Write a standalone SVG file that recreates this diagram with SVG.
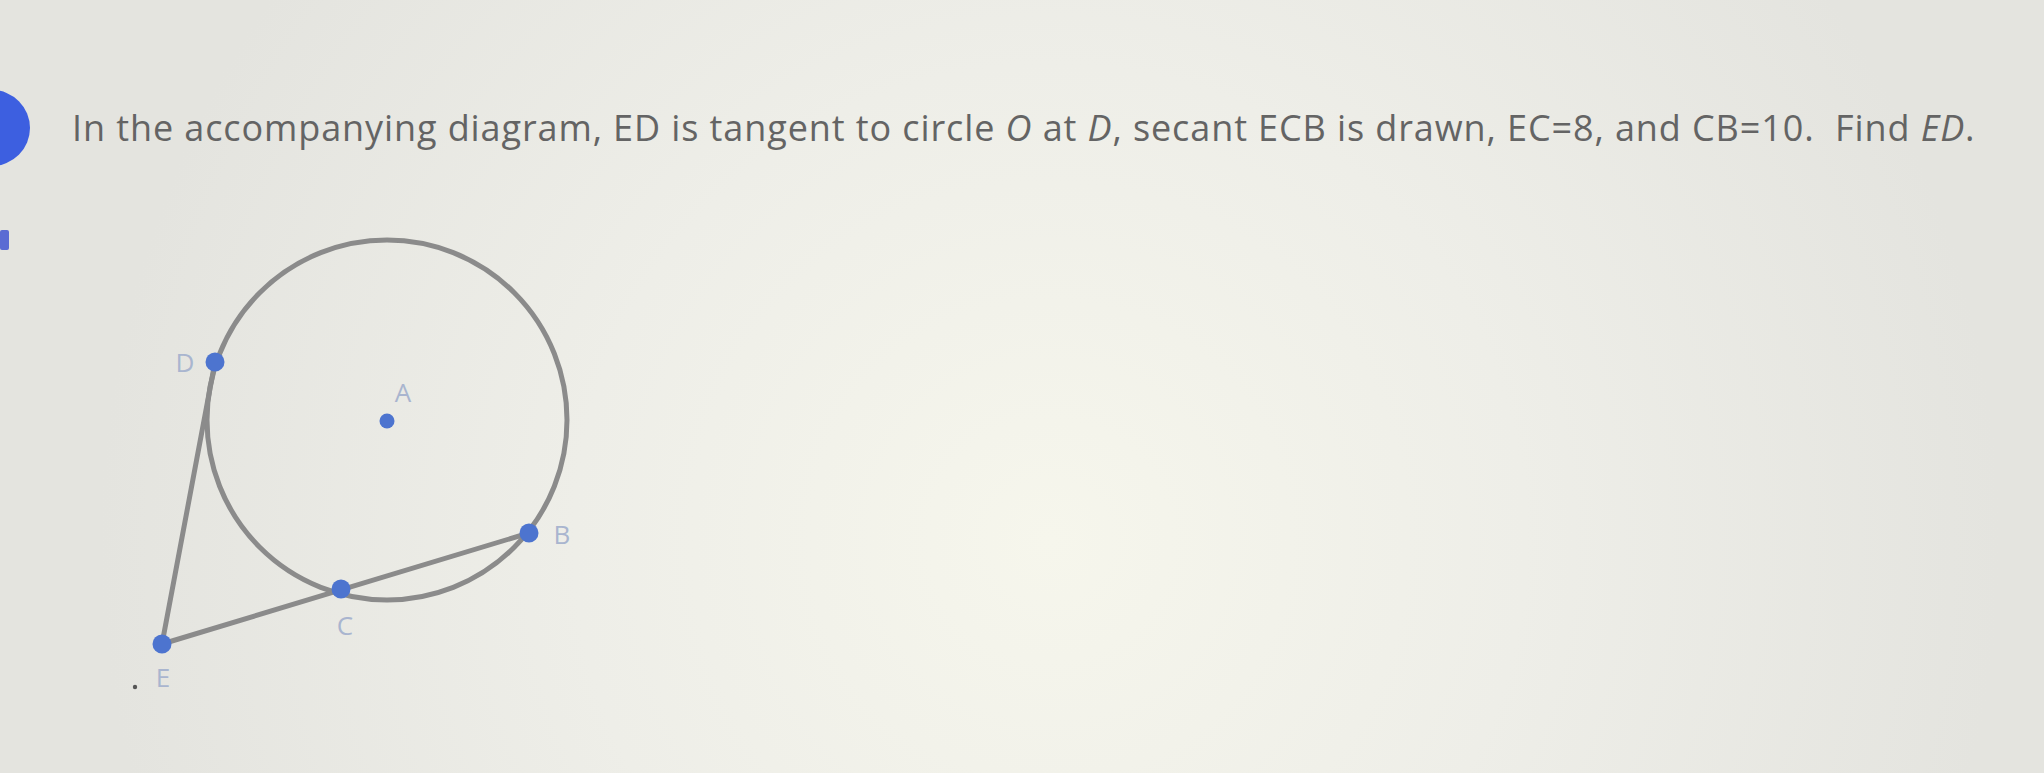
<svg xmlns="http://www.w3.org/2000/svg" width="2044" height="773" viewBox="0 0 2044 773">
<defs>
<radialGradient id="bgGlow" cx="1050" cy="540" r="950" gradientUnits="userSpaceOnUse">
<stop offset="0" stop-color="#f6f6ec"/>
<stop offset="0.5" stop-color="#eeeee8"/>
<stop offset="1" stop-color="#e4e4df"/>
</radialGradient>
<style>
.ln{stroke:#8b8b8b;stroke-width:5;fill:none;stroke-linecap:round}
.pt{fill:#4d74cf}
.lb{font-family:"Open Sans","Liberation Sans",sans-serif;font-size:26px;fill:#a9b5cf;text-anchor:middle}
.q{font-family:"Open Sans","Liberation Sans",sans-serif;font-size:36px;fill:#646464;letter-spacing:0.9px}
</style>
</defs>
<rect width="2044" height="773" fill="url(#bgGlow)"/>
<circle cx="-8" cy="128" r="38" fill="#3d5fe0"/>
<rect x="0" y="230" width="9" height="20" rx="2" fill="#5b6cd3"/>
<text class="q" x="72" y="141">In the accompanying diagram, ED is tangent to circle <tspan font-style="italic">O</tspan> at <tspan font-style="italic">D</tspan>, secant ECB is drawn, EC=8, and CB=10.&#160; Find <tspan font-style="italic">ED</tspan>.</text>
<g id="connectors">
<circle id="circleO" class="ln" cx="387" cy="420" r="180"/>
<line class="ln" x1="162" y1="644" x2="215" y2="362"/>
<line class="ln" x1="162" y1="644" x2="529" y2="533"/>
</g>
<g id="nodeD"><circle class="pt" cx="215" cy="362" r="9.5"/><text class="lb" x="185" y="372">D</text></g>
<g id="nodeA"><circle class="pt" cx="387" cy="421" r="7.5"/><text class="lb" x="403" y="402">A</text></g>
<g id="nodeB"><circle class="pt" cx="529" cy="533" r="9.5"/><text class="lb" x="562" y="544">B</text></g>
<g id="nodeC"><circle class="pt" cx="341" cy="589" r="9.5"/><text class="lb" x="345" y="635">C</text></g>
<g id="nodeE"><circle class="pt" cx="162" cy="644" r="9.5"/><text class="lb" x="163" y="687">E</text></g>
<circle cx="135" cy="687" r="2.2" fill="#555"/>
</svg>
